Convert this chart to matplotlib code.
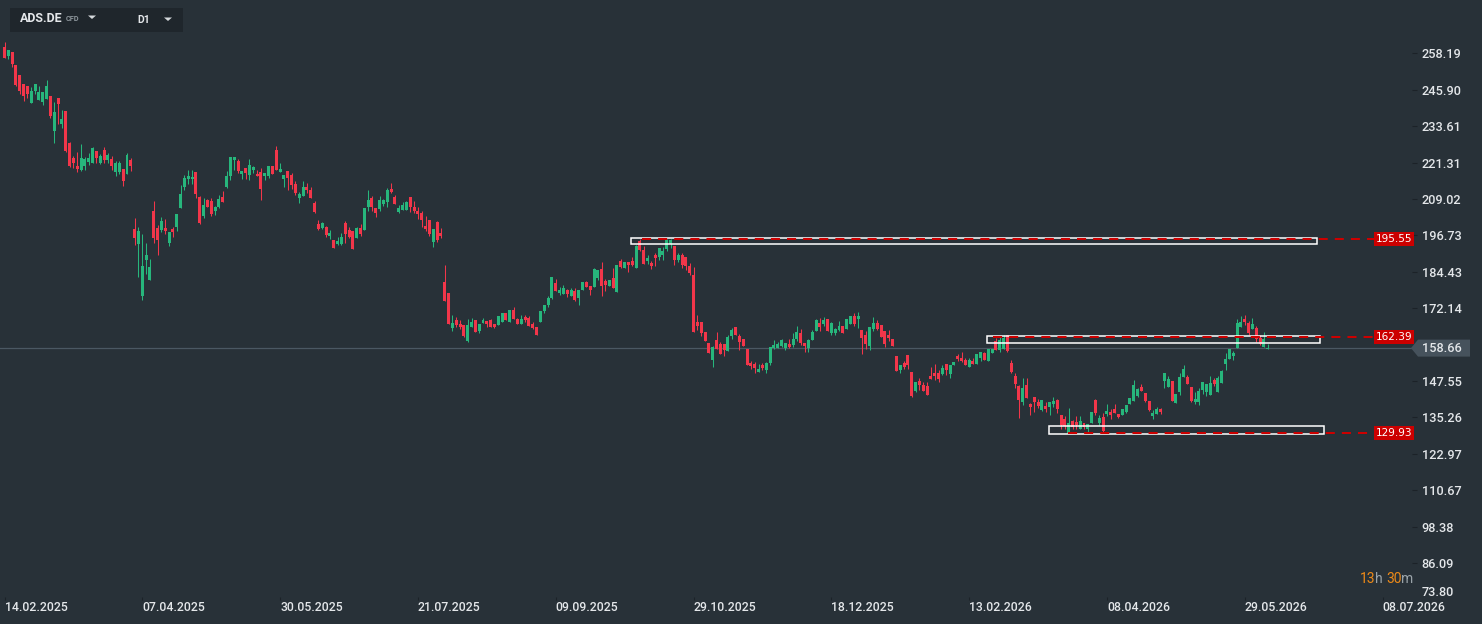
import matplotlib
matplotlib.use("Agg")
import matplotlib.pyplot as plt
from matplotlib.patches import Rectangle, Polygon
import matplotlib.transforms as mtransforms
import numpy as np

# ---------------- data ----------------
opens = [260.2,257.4,258.5,254.3,250.8,247.7,247.2,241.5,245.3,242.5,241.9,242.8,243.8,232.1,243.0,234.3,238.6,227.9,222.8,220.2,
218.8,220.3,221.5,221.3,225.2,221.3,225.5,222.0,222.5,218.0,218.2,219.2,217.6,222.2,198.9,193.8,176.4,188.5,181.5,205.0,
199.2,198.7,199.2,194.3,198.8,199.4,206.1,212.9,215.9,215.6,218.1,209.7,203.4,208.5,208.4,205.0,206.4,209.7,213.2,216.6,
222.3,221.9,217.4,219.5,217.1,218.8,217.5,218.1,216.8,216.8,220.2,225.6,218.1,215.8,218.5,217.1,214.1,209.4,210.0,213.1,
212.1,207.7,200.6,199.2,199.6,196.5,195.2,193.8,193.8,200.9,198.6,198.2,195.9,199.2,198.6,206.3,209.4,206.0,205.7,207.3,
208.0,212.4,209.7,204.6,205.3,205.3,209.7,206.3,205.0,204.3,199.9,201.9,194.5,201.3,197.5,181.0,177.3,165.5,168.2,166.8,
166.5,161.1,165.8,168.2,164.5,167.2,167.8,168.2,166.8,166.5,167.5,170.5,167.5,171.6,168.5,166.8,169.2,168.9,166.8,165.8,
167.5,171.2,173.2,175.6,180.7,177.3,177.0,178.3,176.3,178.0,175.6,178.3,181.0,179.7,179.3,182.4,185.4,181.4,179.7,182.4,
177.6,188.1,185.7,187.8,188.1,185.7,194.8,191.8,188.1,187.4,190.1,189.4,190.1,192.1,193.8,193.2,188.4,190.1,189.4,186.4,
183.4,167.5,167.5,164.1,160.4,154.7,161.4,160.1,160.1,157.7,162.8,165.8,162.8,161.8,158.4,153.6,153.3,150.7,153.0,151.3,
153.7,158.8,158.8,159.5,158.6,160.2,159.7,161.6,163.7,160.4,158.6,161.4,164.6,167.0,166.8,168.5,163.6,163.6,164.8,166.1,
165.1,166.9,169.5,168.5,164.8,163.1,159.5,165.1,167.2,166.5,164.5,163.1,161.8,156.0,151.3,153.8,156.4,150.6,144.2,147.6,
146.2,145.9,149.3,150.3,150.3,150.0,153.3,149.9,153.0,156.0,155.3,154.7,152.3,154.3,153.3,155.3,157.0,154.3,157.0,161.0,
158.0,158.3,163.1,153.7,149.3,145.9,140.5,146.2,139.8,142.2,140.5,137.8,139.1,138.8,139.8,141.2,136.1,134.7,130.0,134.1,
133.7,131.4,133.4,131.4,133.4,141.2,133.4,135.4,136.4,137.1,138.1,136.4,136.1,137.1,139.8,140.8,142.5,145.6,143.5,140.8,
135.8,136.4,138.1,147.6,145.6,147.6,140.1,143.9,148.9,148.9,145.6,140.5,140.5,144.5,143.9,142.9,147.9,143.9,146.9,153.3,
155.0,156.0,158.7,165.8,168.5,167.2,165.1,165.5,162.1,159.0,158.3]
highs = [261.9,259.3,258.5,254.3,250.8,247.7,247.2,246.7,247.7,247.2,245.0,249.2,243.8,241.7,243.0,238.9,238.6,228.1,223.4,224.8,
227.6,223.3,224.5,226.6,225.2,224.3,226.6,224.5,223.4,221.7,221.8,219.2,224.5,222.8,202.6,199.6,197.2,194.2,188.8,208.4,
200.1,203.0,202.3,197.9,199.6,203.9,213.8,217.1,218.8,218.8,218.1,209.9,209.5,208.9,209.3,206.8,210.4,211.7,218.5,223.1,
223.1,222.5,218.5,219.5,222.5,220.2,218.8,219.4,217.8,220.2,220.2,226.9,221.2,217.1,218.5,217.7,215.0,211.4,215.1,214.4,
213.1,208.4,201.9,201.3,199.9,198.6,195.2,196.2,197.5,201.6,199.6,198.2,199.6,200.6,206.0,212.1,210.0,206.0,210.0,209.0,
212.7,214.4,210.4,207.0,208.0,208.4,209.7,208.4,206.3,205.0,203.3,201.9,198.9,201.6,199.2,186.7,177.3,169.9,169.2,168.2,
166.5,168.5,168.9,168.2,166.8,168.9,167.8,168.5,166.8,169.5,170.5,170.5,171.6,172.6,168.9,169.9,169.9,169.5,167.5,165.8,
171.2,173.2,176.3,182.7,182.0,179.3,180.0,178.7,179.0,179.0,178.3,181.0,181.4,179.7,185.7,185.1,187.8,182.0,181.7,185.7,
186.7,188.8,187.8,187.8,189.4,193.5,195.5,193.2,190.1,188.1,190.8,192.5,192.8,195.5,195.5,193.2,190.8,190.8,189.4,187.4,
186.1,169.9,167.5,164.1,160.4,159.4,164.1,160.8,160.1,163.1,165.5,165.8,163.4,161.8,158.4,154.3,154.0,153.3,153.6,154.1,
159.1,161.4,160.6,161.7,160.3,161.6,163.9,166.1,165.1,160.4,161.7,164.8,168.6,168.7,169.3,168.5,167.5,165.5,167.8,166.1,
168.5,169.5,170.5,170.9,164.8,164.5,165.8,169.2,168.2,166.5,164.5,164.8,161.8,156.0,153.0,154.2,156.4,150.6,147.2,148.6,
147.2,147.2,152.3,153.3,151.3,153.0,153.3,153.0,154.0,156.7,157.4,155.3,155.3,155.3,156.7,157.4,157.4,158.4,158.4,162.0,
162.5,163.1,163.1,154.7,150.3,146.2,148.6,148.6,140.2,142.2,141.5,141.2,140.5,140.5,142.2,141.5,136.1,135.8,138.5,134.4,
135.8,135.8,133.4,133.1,137.1,141.5,136.1,136.8,139.8,138.1,139.8,136.4,138.1,139.5,141.8,147.9,145.2,146.6,143.5,140.8,
137.8,138.8,138.5,150.3,149.3,147.6,143.2,150.3,153.0,149.6,145.6,143.9,145.2,147.2,146.6,149.3,148.6,149.3,151.3,157.0,
158.4,157.7,168.5,169.5,169.9,167.8,168.8,166.1,163.1,164.1,160.1]
lows = [256.7,256.3,253.4,247.2,244.5,242.2,243.2,241.5,244.5,242.5,240.8,242.8,236.3,228.0,234.2,233.1,225.0,219.8,219.6,218.2,
218.5,218.8,220.5,221.3,221.0,220.7,221.2,221.0,218.8,216.6,217.6,213.5,217.6,218.6,193.5,182.5,174.9,183.8,181.5,194.3,
190.1,198.0,197.2,193.3,196.2,198.3,206.1,212.1,214.2,214.2,209.3,200.5,202.7,206.2,203.1,203.7,206.1,208.1,212.8,215.4,
218.8,217.8,215.8,215.8,215.4,217.7,216.6,208.7,215.4,216.2,217.5,218.8,218.1,213.1,212.1,212.3,210.3,207.7,210.0,211.0,
209.4,204.3,198.6,198.9,196.2,195.5,192.5,193.5,193.5,194.2,195.9,192.1,195.9,196.5,198.6,205.0,205.0,202.9,205.0,206.7,
206.3,211.0,207.3,204.3,205.3,205.3,204.6,204.3,202.3,199.6,198.2,196.5,192.8,194.5,195.9,174.6,166.8,164.5,165.8,165.1,
162.4,160.8,165.8,164.1,163.8,167.2,165.8,165.8,165.5,166.5,167.5,168.2,167.5,168.5,166.8,166.8,167.5,166.1,165.1,163.1,
167.5,170.5,172.6,175.3,178.0,176.6,177.0,175.9,176.3,174.6,173.2,178.3,179.3,176.6,179.3,181.7,176.3,178.0,179.7,179.0,
177.6,185.7,185.7,184.4,186.4,185.7,191.5,187.1,187.1,185.4,186.4,188.4,188.4,191.5,192.5,186.7,187.8,185.7,185.0,183.4,
164.1,164.8,162.8,161.1,157.0,152.3,158.4,156.7,156.0,157.7,161.8,163.1,158.0,159.4,153.0,151.6,150.3,150.7,151.3,150.4,
153.1,158.3,158.8,159.1,158.0,158.6,159.1,161.2,159.7,157.4,157.4,161.4,164.6,164.5,166.1,164.5,163.2,163.2,164.5,163.6,
165.1,166.9,166.1,165.5,156.7,158.4,158.0,164.5,164.8,162.5,159.2,161.1,159.4,151.1,150.4,151.6,151.6,142.3,143.8,144.5,
144.2,142.9,148.3,147.9,147.2,149.7,149.6,148.6,153.0,154.3,154.0,153.0,152.3,153.3,153.3,154.3,154.7,154.3,157.0,158.0,
157.5,158.3,157.5,150.4,145.1,135.1,139.5,141.8,136.1,137.1,138.5,137.4,137.1,136.1,138.8,136.8,131.4,131.4,130.0,131.4,
131.4,131.4,131.4,130.4,133.4,136.1,132.7,130.4,135.8,134.7,136.8,135.1,136.1,136.8,139.8,140.8,142.2,144.2,140.5,137.4,
134.7,136.4,136.4,145.2,145.6,140.8,140.1,142.9,148.9,146.6,140.5,139.8,139.5,143.2,142.5,142.9,145.9,143.9,146.9,151.3,
155.0,154.7,158.7,165.8,166.5,163.1,165.1,160.7,159.7,159.0,158.3]
closes = [256.7,259.3,254.7,247.5,245.6,243.9,244.5,245.5,247.7,245.0,245.0,247.2,237.1,238.3,241.2,236.0,225.3,220.2,221.3,219.1,
222.8,222.5,222.9,226.1,223.0,223.6,222.3,223.9,220.3,221.3,221.2,215.2,223.9,220.0,196.0,198.2,186.4,190.1,186.1,196.0,
195.0,201.6,198.1,197.9,197.7,203.9,210.7,216.0,216.8,216.4,210.8,201.0,207.0,206.4,204.0,206.4,209.0,208.1,216.8,223.1,
223.1,218.3,218.5,217.8,220.5,219.9,216.6,212.4,217.8,220.2,217.5,218.8,219.2,217.1,216.2,213.8,211.1,210.7,213.1,212.1,
209.4,204.6,198.9,200.9,196.9,197.5,192.5,194.8,196.2,197.2,196.2,192.1,199.2,197.2,206.0,208.7,206.3,204.3,208.7,208.7,
212.1,211.4,207.3,206.0,207.0,208.0,206.3,205.0,204.0,201.9,198.9,197.2,198.9,195.2,196.5,174.6,166.8,167.2,166.5,165.8,
162.8,166.5,167.5,164.1,166.8,168.2,166.8,165.8,165.8,169.5,170.5,168.2,171.6,168.5,166.8,168.5,168.2,166.1,165.5,163.1,
171.2,173.2,175.6,182.7,178.0,178.3,179.0,177.0,178.3,174.9,178.3,181.0,179.3,178.3,185.4,185.1,179.7,180.0,181.7,179.0,
186.7,186.1,187.8,186.7,186.7,193.2,191.8,187.1,189.1,186.4,189.1,192.5,191.5,195.2,195.2,188.4,190.1,186.7,186.4,184.0,
164.1,166.1,163.8,161.1,157.0,159.0,158.4,156.7,158.0,162.4,164.8,163.1,160.7,159.4,153.0,152.6,151.9,151.6,152.0,153.8,
159.1,159.7,160.2,161.4,160.3,159.2,161.6,164.1,160.4,159.4,161.3,164.1,168.2,165.9,168.2,164.5,167.1,165.0,166.1,163.8,
168.5,169.5,166.8,169.5,162.1,160.1,165.8,167.2,165.1,162.5,160.2,162.2,159.4,151.1,153.0,152.4,153.0,142.5,147.2,146.2,
144.2,142.9,148.3,149.3,148.3,151.9,151.3,153.0,154.0,155.0,154.2,153.0,154.7,153.3,156.7,157.4,154.7,158.4,158.4,158.0,
161.5,162.0,157.7,150.7,146.7,141.2,145.2,141.8,138.8,140.5,139.1,141.2,138.1,140.5,140.8,138.1,132.7,132.4,133.4,132.0,
132.7,134.1,132.0,133.1,137.1,136.8,135.1,130.7,137.4,136.1,136.8,135.4,138.1,139.5,141.8,146.2,144.9,144.2,140.8,137.8,
136.8,138.1,137.1,150.3,148.3,140.8,143.2,148.9,151.6,146.6,140.8,141.5,144.2,147.2,146.6,146.9,146.6,148.6,150.9,155.0,
158.4,157.0,167.2,167.5,167.5,163.8,166.8,161.8,159.9,161.7,158.66]

date_labels = ["14.02.2025", "07.04.2025", "30.05.2025", "21.07.2025", "09.09.2025", "29.10.2025",
               "18.12.2025", "13.02.2026", "08.04.2026", "29.05.2026", "08.07.2026"]
bars_per_label = 36
price_ticks = [258.19, 245.90, 233.61, 221.31, 209.02, 196.73, 184.43, 172.14,
               147.55, 135.26, 122.97, 110.67, 98.38, 86.09]
bottom_tick = 73.80
last_price = 158.66
levels = [195.55, 162.39, 129.93]
zones = [(193.71, 195.95), (160.28, 162.75), (129.69, 132.26)]

# ---------------- style ----------------
W, H = 1482, 624
BG = "#283138"
GREEN = "#27b67c"
RED = "#f2364a"
TXT = "#e4e7ea"
plt.rcParams['font.family'] = ['Roboto', 'DejaVu Sans']

fig = plt.figure(figsize=(W / 100, H / 100), dpi=100, facecolor=BG)
ax_right_px = 1412
ax_bottom_px = 597
ax = fig.add_axes([0, 1 - ax_bottom_px / H, ax_right_px / W, ax_bottom_px / H])
ax.set_facecolor(BG)

px_per_bar = 3.828
x0_px = 4.5
ax.set_xlim(-x0_px / px_per_bar, (ax_right_px - x0_px) / px_per_bar)
# price scale: 258.19 at y=53.3px, 2.962 px per unit
ax.set_ylim(258.19 - (ax_bottom_px - 53.3) / 2.962, 258.19 + 53.3 / 2.962)

for s in ax.spines.values():
    s.set_visible(False)

o = np.array(opens); h = np.array(highs); l = np.array(lows); c = np.array(closes)
x = np.arange(len(c))
up = c >= o
cols = np.where(up, GREEN, RED)

# current price line
ax.axhline(last_price, color="#4b5863", lw=0.9, zorder=1)

ax.vlines(x, l, h, colors=cols, linewidth=0.75, zorder=3)
bottoms = np.minimum(o, c)
heights = np.maximum(np.abs(c - o), 0.35)
ax.bar(x, heights, bottom=bottoms, width=0.78, color=cols, linewidth=0, zorder=4)

# zones (rectangles)
zone_x = [(163.7, 342.9), (256.7, 343.7), (272.9, 344.7)]
for (y0, y1), (xa, xb) in zip(zones, zone_x):
    ax.add_patch(Rectangle((xa, y0), xb - xa, y1 - y0, fill=False, edgecolor="white",
                           linewidth=1.1, zorder=6))

# dashed level lines
dash_start = [166.5, 258.3, 277.8]
label_left_px = 1374
x_end = (label_left_px - x0_px) / px_per_bar
for lv, xs in zip(levels, dash_start):
    ax.plot([xs, x_end], [lv, lv], color="#cc0000", lw=1.45, dashes=(4.5, 3.5),
            zorder=7, clip_on=False, solid_capstyle='butt', dash_capstyle='butt')

# level labels
bt = mtransforms.blended_transform_factory(fig.transFigure, ax.transData)
box_h = 14 / 2.962
for lv in levels:
    ax.add_patch(Rectangle((label_left_px / W, lv - box_h / 2), 40 / W, box_h,
                           facecolor="#cc0000", edgecolor="none", transform=bt,
                           clip_on=False, zorder=8))
    ax.text(1394.5 / W, lv, f"{lv:.2f}", transform=bt, color="white", fontsize=7.6,
            family="DejaVu Sans", ha="center", va="center", zorder=9, clip_on=False)

# last price label
lp_h = 17 / 2.962
poly = [(1411 / W, last_price), (1418 / W, last_price + lp_h / 2), (1470 / W, last_price + lp_h / 2),
        (1470 / W, last_price - lp_h / 2), (1418 / W, last_price - lp_h / 2)]
ax.add_patch(Polygon(poly, closed=True, facecolor="#46525c", edgecolor="none",
                     transform=bt, clip_on=False, zorder=7))
ax.text(1422 / W, last_price, f"{last_price:.2f}", transform=bt, color=TXT, fontsize=9.2,
        fontweight="medium", ha="left", va="center", zorder=8, clip_on=False)

# y axis
ax.yaxis.tick_right()
ax.set_yticks(price_ticks)
ax.set_yticklabels([f"{v:.2f}" for v in price_ticks])
ax.tick_params(axis="y", length=3.6, width=0.8, color="#1c2228", pad=3.4,
               labelsize=9.2, labelcolor=TXT)
for lab in ax.get_yticklabels():
    lab.set_fontweight("medium")
fig.text(1422 / W, 1 - 593 / H, f"{bottom_tick:.2f}", color=TXT, fontsize=9.2,
         fontweight="medium", ha="left", va="center")

# x axis
xt = [i * bars_per_label for i in range(len(date_labels))]
ax.set_xticks(xt)
ax.set_xticklabels(date_labels)
ax.tick_params(axis="x", length=2.5, width=0.8, color="#1c2228", pad=0.5,
               labelsize=8.8, labelcolor=TXT)
for lab in ax.get_xticklabels():
    lab.set_horizontalalignment("left")
    lab.set_fontweight("medium")

# header box
fig.add_artist(Rectangle((10 / W, 1 - 32 / H), 173 / W, 24 / H, transform=fig.transFigure,
                         facecolor="#1f262c", edgecolor="none"))
fig.text(20 / W, 1 - 18.5 / H, "ADS.DE", color=TXT, fontsize=9.0, fontweight="bold",
         ha="left", va="center")
fig.text(66 / W, 1 - 19 / H, "CFD", color="#8e979d", fontsize=5.3, fontweight="bold",
         ha="left", va="center")
fig.text(137 / W, 1 - 20 / H, "D1", color=TXT, fontsize=7.5, fontweight="bold",
         ha="left", va="center")
for cx, cy in [(92, 15.5), (168, 17.5)]:
    tri = [((cx - 4) / W, 1 - cy / H), ((cx + 4) / W, 1 - cy / H), (cx / W, 1 - (cy + 3.5) / H)]
    fig.add_artist(Polygon(tri, closed=True, transform=fig.transFigure,
                           facecolor="#d5d9dc", edgecolor="none"))

# countdown
ORANGE = "#ee8a17"
GREY = "#9aa3a9"
for txt, xp, colr in [("13", 1360, ORANGE), ("h", 1375.5, GREY), ("30", 1386, ORANGE), ("m", 1401.5, GREY)]:
    fig.text(xp / W, 1 - 579 / H, txt, color=colr, fontsize=10, ha="left", va="center")

fig.savefig("out.png", dpi=100, facecolor=BG)
